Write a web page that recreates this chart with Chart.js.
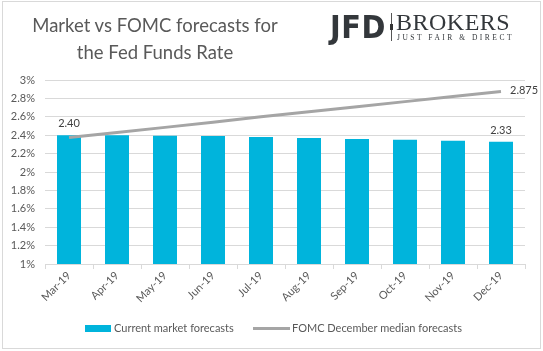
<!DOCTYPE html>
<html>
<head>
<meta charset="utf-8">
<script src="https://cdn.jsdelivr.net/npm/chart.js@4.4.1/dist/chart.umd.min.js"></script>
<style>
  html, body { margin: 0; padding: 0; background: #fff; }
  #wrap { position: relative; width: 543px; height: 351px; overflow: hidden; }
  #frame { position: absolute; left: 2px; top: 1px; width: 537px; height: 346px; border: 1px solid #d9d9d9; }
  #title { position: absolute; left: 20px; top: 12px; width: 270px; text-align: center;
           font-family: Lato, "Liberation Sans", sans-serif; font-size: 18.5px; line-height: 27px; color: #595959; }
  #logo { position: absolute; left: 330px; top: 10px; color: #33373b; }
  #logo .jfd { position: absolute; left: 0; top: -2px; font-family: "Liberation Sans Narrow", "DejaVu Sans Condensed", sans-serif;
               font-weight: bold; font-size: 32px; letter-spacing: 0.5px; }
  #logo .sep { position: absolute; left: 61px; top: 3px; width: 1px; height: 28px; background: #555; }
  #logo .sep i { position: absolute; left: -1px; top: 11px; width: 3px; height: 6px; background: #333; }
  #logo .brk { position: absolute; left: 66px; top: -1px; font-family: "Liberation Serif", "DejaVu Serif", serif; font-size: 24px; white-space: nowrap; letter-spacing: 0.5px; }
  #logo .tag { position: absolute; left: 67px; top: 23px; font-family: "Liberation Serif", "DejaVu Serif", serif; font-size: 7.5px; letter-spacing: 2.5px; white-space: nowrap; }
  canvas { position: absolute; left: 0; top: 0; }
</style>
</head>
<body>
<div id="wrap">
  <canvas id="chart" width="543" height="351"></canvas>
  <div id="frame"></div>
  <div id="title">Market vs FOMC forecasts for<br>the Fed Funds Rate</div>
  <div id="logo">
    <span class="jfd">JFD</span>
    <span class="sep"><i></i></span>
    <span class="brk">BROKERS</span>
    <span class="tag">JUST FAIR &amp; DIRECT</span>
  </div>
</div>
<script>
// Données
const months = ["Mar-19", "Apr-19", "May-19", "Jun-19", "Jul-19", "Aug-19", "Sep-19", "Oct-19", "Nov-19", "Dec-19"];
const marketForecasts = [2.40, 2.40, 2.395, 2.39, 2.38, 2.37, 2.36, 2.35, 2.34, 2.33];
const fomcForecasts = [2.375, 2.43, 2.485, 2.54, 2.60, 2.655, 2.71, 2.765, 2.82, 2.875];
const marketLabel = "Current market forecasts";
const fomcLabel = "FOMC December median forecasts";

const textColor = "#595959";
const barColor = "#00b4dc";
const lineColor = "#a5a5a5";
const font = "Lato, 'Liberation Sans', sans-serif";

// Étiquettes de valeur : premier et dernier point
const valueLabels = {
  id: "valueLabels",
  afterDatasetsDraw(chart) {
    const ctx = chart.ctx;
    ctx.save();
    ctx.font = "11px " + font;
    ctx.fillStyle = "#404040";
    const pts = chart.getDatasetMeta(0).data;
    const bars = chart.getDatasetMeta(1).data;
    ctx.textAlign = "center";
    ctx.textBaseline = "bottom";
    const first = bars[0], last = bars[bars.length - 1];
    ctx.fillText(marketForecasts[0].toFixed(2), first.x, first.y - 6);
    ctx.fillText(marketForecasts[marketForecasts.length - 1].toFixed(2), last.x, last.y - 6);
    const end = pts[pts.length - 1];
    ctx.textAlign = "left";
    ctx.textBaseline = "middle";
    ctx.fillText(String(fomcForecasts[fomcForecasts.length - 1]), end.x + 9, end.y - 1);
    ctx.restore();
  }
};

// Légende dessinée à la main en bas
const bottomLegend = {
  id: "bottomLegend",
  afterDraw(chart) {
    const ctx = chart.ctx;
    ctx.save();
    ctx.font = "11px " + font;
    ctx.textBaseline = "middle";
    const y = 328;
    ctx.fillStyle = barColor;
    ctx.fillRect(85, y - 3, 26, 7);
    ctx.fillStyle = textColor;
    ctx.fillText(marketLabel, 114, y);
    ctx.strokeStyle = lineColor;
    ctx.lineWidth = 3;
    ctx.beginPath();
    ctx.moveTo(253, y + 0.5);
    ctx.lineTo(290, y + 0.5);
    ctx.stroke();
    ctx.fillText(fomcLabel, 292, y);
    ctx.restore();
  }
};

new Chart(document.getElementById("chart").getContext("2d"), {
  type: "bar",
  data: {
    labels: months,
    datasets: [
      {
        type: "line",
        label: fomcLabel,
        data: fomcForecasts,
        borderColor: lineColor,
        borderWidth: 3,
        pointRadius: 0,
        tension: 0,
        order: 0
      },
      {
        label: marketLabel,
        data: marketForecasts,
        backgroundColor: barColor,
        barPercentage: 0.5,
        categoryPercentage: 1,
        order: 1
      }
    ]
  },
  options: {
    responsive: false,
    animation: false,
    layout: { padding: { top: 80, right: 18, bottom: 0, left: 0 } },
    plugins: { legend: { display: false }, tooltip: { enabled: false } },
    scales: {
      x: {
        offset: true,
        grid: { display: true, drawOnChartArea: false, offset: true, tickLength: 5, color: "#d9d9d9" },
        border: { color: "#d9d9d9" },
        ticks: { color: textColor, font: { family: font, size: 11 }, minRotation: 45, maxRotation: 45, padding: 0 },
        afterFit(axis) { axis.height = 87; }
      },
      y: {
        min: 1,
        max: 3,
        grid: { color: "#d9d9d9", drawTicks: false },
        border: { display: false },
        ticks: {
          stepSize: 0.2,
          padding: 10,
          color: textColor,
          font: { family: font, size: 11 },
          callback: (v) => parseFloat(v.toFixed(1)) + "%"
        },
        afterFit(axis) { axis.width = 45; }
      }
    }
  },
  plugins: [valueLabels, bottomLegend]
});
</script>
</body>
</html>
